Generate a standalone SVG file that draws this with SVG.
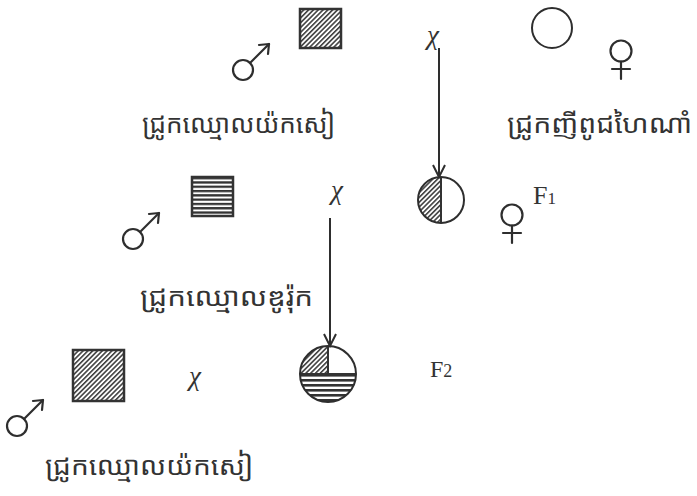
<svg xmlns="http://www.w3.org/2000/svg" width="697" height="496" viewBox="0 0 697 496">
<style>
.ln{stroke:#2e2e2e;fill:none;stroke-width:2}
.sym{stroke:#2e2e2e;fill:none;stroke-width:2.2;stroke-linecap:round;stroke-linejoin:round}
.km{font-family:"Noto Sans Khmer","Noto Serif Khmer","Khmer OS","Khmer OS System",sans-serif;font-size:26px;fill:#333}
.chi{font-family:"Liberation Serif","DejaVu Serif",serif;font-style:italic;font-size:27px;fill:#333}
.f{font-family:"Liberation Serif","DejaVu Serif",serif;fill:#333}
</style>
<defs>
<pattern id="diag" patternUnits="userSpaceOnUse" width="3.4" height="3.4" patternTransform="rotate(45)">
<rect width="3.4" height="3.4" fill="#fff"/><line x1="0.8" y1="0" x2="0.8" y2="3.4" stroke="#333" stroke-width="1.5"/>
</pattern>
<pattern id="horiz" patternUnits="userSpaceOnUse" width="4" height="4.3" y="177">
<rect width="4" height="4.3" fill="#fff"/><rect width="4" height="2.3" fill="#333"/>
</pattern>
<pattern id="horiz2" patternUnits="userSpaceOnUse" width="4" height="5" y="374">
<rect width="4" height="5" fill="#fff"/><rect width="4" height="2.6" fill="#333"/>
</pattern>
<g id="male" class="sym">
<circle cx="0" cy="0" r="10"/>
<line x1="7" y1="-7" x2="26" y2="-26"/>
<polyline points="16,-25 26,-26 25,-16"/>
</g>
<g id="female" class="sym">
<circle cx="0" cy="0" r="10.5"/>
<line x1="0" y1="10.5" x2="0" y2="28"/>
<line x1="-9" y1="18" x2="9" y2="18"/>
</g>
<marker id="arr" markerWidth="16" markerHeight="16" refX="14" refY="8" orient="auto" markerUnits="userSpaceOnUse" viewBox="0 0 16 16">
<polyline points="2,2 14,8 2,14" fill="none" stroke="#2e2e2e" stroke-width="2"/>
</marker>
</defs>
<rect width="697" height="496" fill="#fff"/>

<g id="p1-male">
<rect x="300" y="9" width="41" height="39" fill="url(#diag)" stroke="#333" stroke-width="2.5"/>
<use href="#male" x="243" y="70"/>
<text class="km" x="142" y="133" textLength="193" lengthAdjust="spacingAndGlyphs">ជ្រូកឈ្មោលយ៉កសៀ</text>
</g>
<g id="p1-female">
<circle cx="552" cy="28" r="20" class="ln" stroke-width="2.2"/>
<use href="#female" x="621" y="51"/>
<text class="km" x="507" y="133" textLength="185" lengthAdjust="spacingAndGlyphs">ជ្រូកញីពូជហៃណាំ</text>
</g>
<g id="f1">
<path d="M441,177 A23,23 0 0 0 441,223 Z" fill="url(#diag)"/>
<line x1="441" y1="177" x2="441" y2="223" stroke="#333" stroke-width="2"/>
<circle cx="441" cy="200" r="23" class="ln" stroke-width="2.5"/>
<use href="#female" x="512" y="215"/>
<text class="f" x="533" y="204" font-size="26">F<tspan font-size="17">1</tspan></text>
</g>
<g id="p2-male">
<rect x="192" y="177" width="41" height="39" fill="url(#horiz)" stroke="#333" stroke-width="2.5"/>
<use href="#male" x="133" y="239"/>
<text class="km" x="140" y="306" textLength="173" lengthAdjust="spacingAndGlyphs">ជ្រូកឈ្មោលឌូរ៉ុក</text>
</g>
<g id="f2">
<path d="M300,374 A28,28 0 0 0 356,374 Z" fill="url(#horiz2)"/>
<path d="M328,374 L300,374 A28,28 0 0 1 328,346 Z" fill="url(#diag)"/>
<path d="M328,346 V374 M300,374 H356" stroke="#333" stroke-width="2"/>
<circle cx="328" cy="374" r="28" class="ln" stroke-width="3"/>
<text class="f" x="430" y="377" font-size="24">F<tspan font-size="18">2</tspan></text>
</g>
<g id="p3-male">
<rect x="73" y="350" width="51" height="51" fill="url(#diag)" stroke="#333" stroke-width="2.5"/>
<use href="#male" x="17" y="426"/>
<text class="km" x="45" y="475" textLength="208" lengthAdjust="spacingAndGlyphs">ជ្រូកឈ្មោលយ៉កសៀ</text>
</g>

<g id="connectors">
<line x1="439" y1="48" x2="439" y2="177" class="ln" marker-end="url(#arr)"/>
<line x1="330" y1="218" x2="330" y2="346" class="ln" marker-end="url(#arr)"/>
<text class="chi" x="433" y="44" text-anchor="middle">χ</text>
<text class="chi" x="337" y="199" text-anchor="middle">χ</text>
<text class="chi" x="195" y="385" text-anchor="middle">χ</text>
</g>
</svg>
